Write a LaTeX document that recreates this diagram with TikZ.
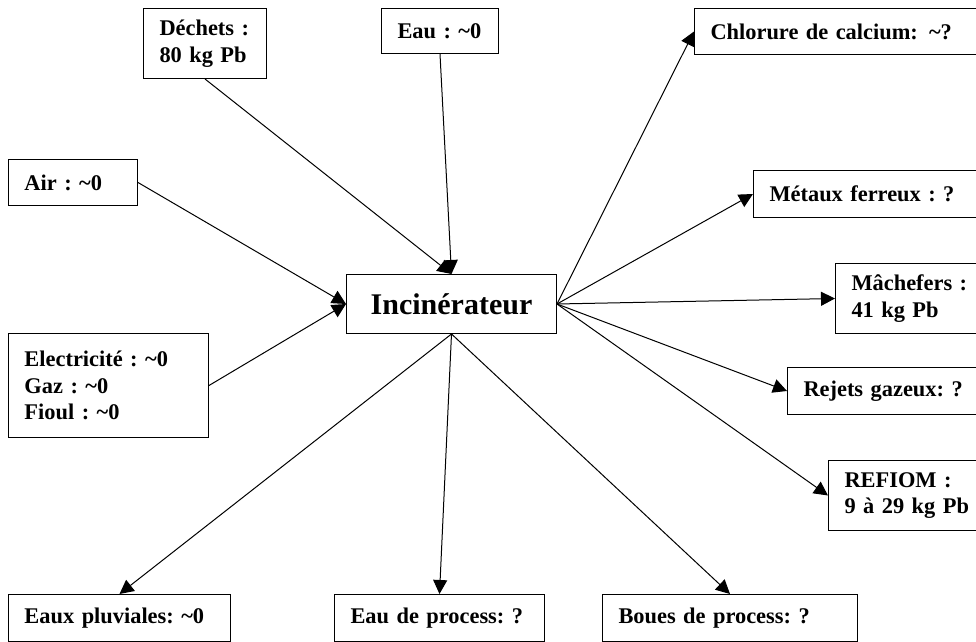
\documentclass[tikz,border=0pt]{standalone}
\usepackage{fontspec}
\setmainfont{Liberation Serif}
\usetikzlibrary{arrows.meta}

\begin{document}
\begin{tikzpicture}[x=0.5pt,y=-0.5pt,
  box/.style={draw, line width=0.5pt, anchor=north west, inner xsep=8pt, inner ysep=0pt,
    align=left, font=\bfseries\fontsize{11.2}{13.3}\selectfont},
  flow/.style={line width=0.5pt, -{Triangle[length=7pt,width=7pt]}}]
\useasboundingbox (0,0) rectangle (976,642);
\clip (0,0) rectangle (976,642);
% entrants
\node[box, text width=45.5pt, minimum height=35pt] (dechets) at (143,8) {D\'echets~:\\80~kg~Pb};
\node[box, text width=42.5pt, minimum height=22.5pt] (eau) at (381,8) {Eau~:~\textasciitilde0};
\node[box, text width=48.5pt, minimum height=23pt] (air) at (8,159) {Air~:~\textasciitilde0};
\node[box, text width=84pt, minimum height=52pt] (energie) at (8,333)
  {Electricit\'e~:~\textasciitilde0\\Gaz~:~\textasciitilde0\\Fioul~:~\textasciitilde0};
% incinerateur
\node[draw, line width=0.5pt, anchor=north west, minimum width=105pt, minimum height=29.5pt,
  inner sep=0pt, font=\bfseries\fontsize{15}{18}\selectfont] (inc) at (346,274) {Incin\'erateur};
% sortants
\node[box, text width=154pt, minimum height=23pt] (chlorure) at (694,8) {Chlorure de calcium: \textasciitilde?};
\node[box, text width=134pt, minimum height=23.5pt] (metaux) at (753,170) {M\'etaux ferreux~:~?};
\node[box, text width=84pt, minimum height=35pt] (machefers) at (835,263) {M\^achefers~:\\41~kg~Pb};
\node[box, text width=109pt, minimum height=23.5pt] (rejets) at (787,367) {Rejets gazeux:~?};
\node[box, text width=84pt, minimum height=35pt] (refiom) at (828,460) {REFIOM~:\\9~\`a~29~kg~Pb};
\node[box, text width=95pt, minimum height=23.5pt] (pluviales) at (8,594) {Eaux pluviales:~\textasciitilde0};
\node[box, text width=89pt, minimum height=23.5pt] (process) at (334,594) {Eau de process:~?};
\node[box, text width=111.5pt, minimum height=23.5pt] (boues) at (602,594) {Boues de process:~?};
% fleches
\draw[flow] (dechets.south) -- (inc.north);
\draw[flow] (eau.south) -- (inc.north);
\draw[flow] (air.east) -- (inc.west);
\draw[flow] (energie.east) -- (inc.west);
\draw[flow] (inc.east) -- (chlorure.west);
\draw[flow] (inc.east) -- (metaux.west);
\draw[flow] (inc.east) -- (machefers.west);
\draw[flow] (inc.east) -- (rejets.west);
\draw[flow] (inc.east) -- (refiom.west);
\draw[flow] (inc.south) -- (pluviales.north);
\draw[flow] (inc.south) -- (process.north);
\draw[flow] (inc.south) -- (boues.north);
\end{tikzpicture}
\end{document}
